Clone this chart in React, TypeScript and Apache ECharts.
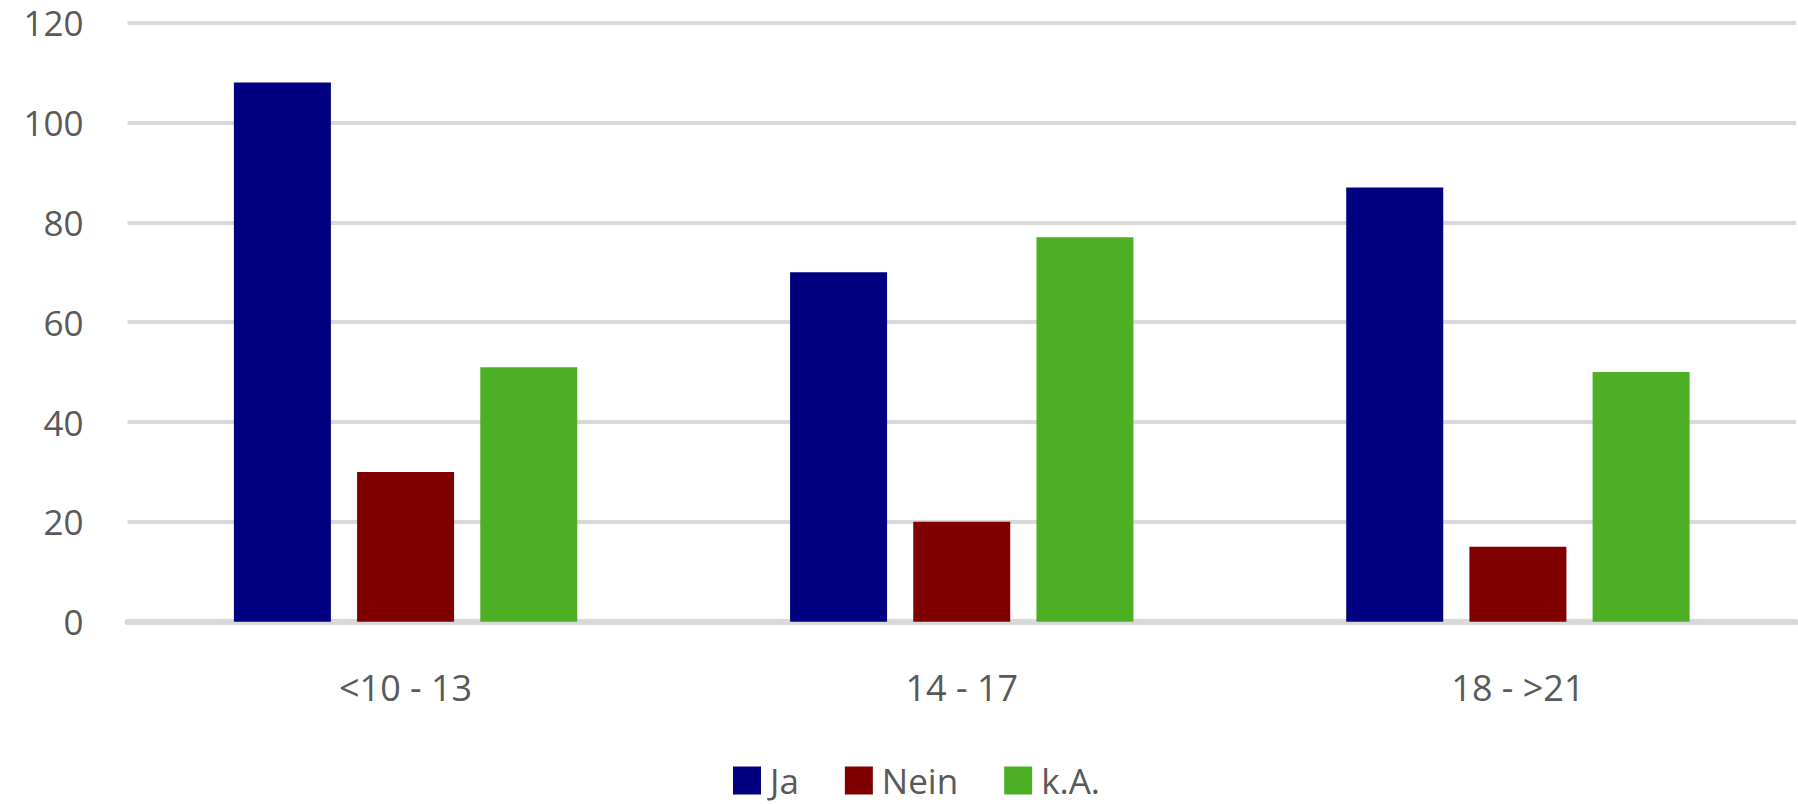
import React, { useEffect, useRef } from "react";
import * as echarts from "echarts";

const categories = ["<10 - 13", "14 - 17", "18 - >21"];
const jaValues = [108, 70, 87];
const neinValues = [30, 20, 15];
const kaValues = [51, 77, 50];
const seriesNames = ["Ja", "Nein", "k.A."];
const seriesColors = ["#000080", "#800000", "#4caf24"];

export default function App() {
  const ref = useRef<HTMLDivElement>(null);
  useEffect(() => {
    if (!ref.current) return;
    const chart = echarts.init(ref.current, undefined, { renderer: "svg" });
    const font = "'Open Sans', 'DejaVu Sans', sans-serif";
    const data = [jaValues, neinValues, kaValues];
    chart.setOption({
      animation: false,
      backgroundColor: "#ffffff",
      grid: { left: 127.5, right: 2, top: 22.7, bottom: 182.3, containLabel: false },
      legend: {
        data: seriesNames,
        left: 733,
        top: 763,
        padding: 0,
        itemWidth: 28,
        itemHeight: 28,
        itemGap: 46,
        icon: "rect",
        textStyle: { fontFamily: font, fontSize: 35, color: "#595959", padding: [0, 0, 0, 4] },
      },
      xAxis: {
        type: "category",
        data: categories,
        axisTick: { show: false },
        axisLine: { show: true, lineStyle: { color: "#d9d9d9", width: 6 } },
        axisLabel: { fontFamily: font, fontSize: 36, color: "#595959", margin: 48 },
      },
      yAxis: {
        type: "value",
        min: 0,
        max: 120,
        interval: 20,
        axisLine: { show: false },
        axisTick: { show: false },
        splitLine: { lineStyle: { color: "#d9d9d9", width: 4 } },
        axisLabel: { fontFamily: font, fontSize: 35, color: "#595959", margin: 44 },
      },
      series: seriesNames.map((name, i) => ({
        name,
        type: "bar",
        data: data[i],
        barWidth: 97,
        barGap: "27%",
        itemStyle: { color: seriesColors[i] },
      })),
    });
    return () => chart.dispose();
  }, []);
  return (
    <div
      ref={ref}
      style={{ position: "fixed", left: 0, top: 0, width: 1798, height: 804 }}
    />
  );
}
